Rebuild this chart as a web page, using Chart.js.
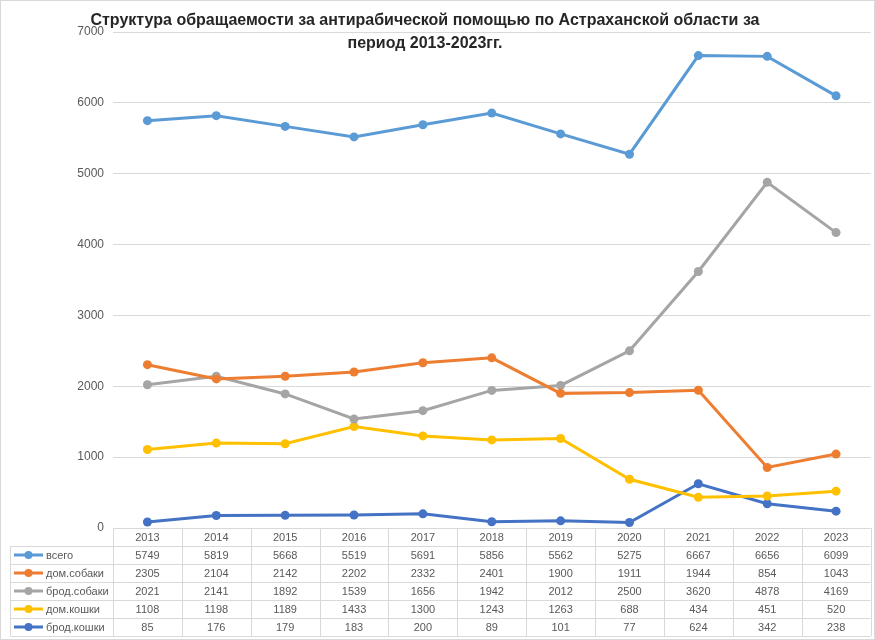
<!DOCTYPE html>
<html><head><meta charset="utf-8">
<script src="https://cdn.jsdelivr.net/npm/chart.js@4"></script>
<style>html,body{margin:0;padding:0;background:#fff}#wrap{width:875px;height:640px}</style>
</head><body><div id="wrap"><canvas id="c" width="875" height="640"></canvas></div>
<script>
const years = ['2013','2014','2015','2016','2017','2018','2019','2020','2021','2022','2023'];
const seriesNames = ['всего','дом.собаки','брод.собаки','дом.кошки','брод.кошки'];
const vsego      = [5749,5819,5668,5519,5691,5856,5562,5275,6667,6656,6099];
const domSobaki  = [2305,2104,2142,2202,2332,2401,1900,1911,1944,854,1043];
const brodSobaki = [2021,2141,1892,1539,1656,1942,2012,2500,3620,4878,4169];
const domKoshki  = [1108,1198,1189,1433,1300,1243,1263,688,434,451,520];
const brodKoshki = [85,176,179,183,200,89,101,77,624,342,238];
const yTicks = [0,1000,2000,3000,4000,5000,6000,7000];
const titleLines = ['Структура обращаемости за антирабической помощью по Астраханской области за','период 2013-2023гг.'];

const colors = ['#5B9BD5','#ED7D31','#A5A5A5','#FFC000','#4472C4'];
const allData = [vsego, domSobaki, brodSobaki, domKoshki, brodKoshki];
const FONT = '"Liberation Sans", Arial, sans-serif';
const TXT = '#595959';
const GRID = '#d9d9d9';

const tablePlugin = {
  id: 'tbl',
  afterDraw(chart) {
    const ctx = chart.ctx;
    const xs = chart.scales.x;
    const area = chart.chartArea;
    const left = area.left, right = area.right;
    const n = years.length;
    const colW = (right - left) / n;
    const top = area.bottom;
    const rowH = 18;
    ctx.save();
    ctx.strokeStyle = GRID;
    ctx.lineWidth = 1;
    for (let r = 0; r <= 6; r++) {
      const y = Math.round(top + r * rowH) + 0.5;
      const x0 = r >= 1 ? 10.5 : left;
      ctx.beginPath(); ctx.moveTo(x0, y); ctx.lineTo(right, y); ctx.stroke();
    }
    for (let i = 0; i <= n; i++) {
      const x = Math.round(left + i * colW) + 0.5;
      ctx.beginPath(); ctx.moveTo(x, top); ctx.lineTo(x, top + 6 * rowH); ctx.stroke();
    }
    ctx.beginPath(); ctx.moveTo(10.5, top + rowH); ctx.lineTo(10.5, top + 6 * rowH); ctx.stroke();
    ctx.fillStyle = TXT;
    ctx.font = '11px ' + FONT;
    ctx.textAlign = 'center';
    ctx.textBaseline = 'middle';
    for (let i = 0; i < n; i++) {
      const cx = xs.getPixelForValue(i);
      ctx.fillText(years[i], cx, top + rowH / 2 + 1);
      for (let s = 0; s < allData.length; s++) {
        ctx.fillText(String(allData[s][i]), cx, top + (s + 1) * rowH + rowH / 2 + 1);
      }
    }
    ctx.textAlign = 'left';
    for (let s = 0; s < seriesNames.length; s++) {
      const cy = top + (s + 1) * rowH + rowH / 2;
      ctx.strokeStyle = colors[s];
      ctx.lineWidth = 3;
      ctx.beginPath(); ctx.moveTo(14, cy); ctx.lineTo(43, cy); ctx.stroke();
      ctx.fillStyle = colors[s];
      ctx.beginPath(); ctx.arc(28.5, cy, 4, 0, Math.PI * 2); ctx.fill();
      ctx.fillStyle = TXT;
      ctx.fillText(seriesNames[s], 46, cy + 1);
    }
    ctx.fillStyle = '#262626';
    ctx.font = 'bold 16px ' + FONT;
    ctx.textAlign = 'center';
    ctx.fillText(titleLines[0], 425, 21);
    ctx.fillText(titleLines[1], 425, 44);
    ctx.strokeStyle = GRID;
    ctx.lineWidth = 1;
    ctx.strokeRect(0.5, 0.5, 874, 639);
    ctx.restore();
  }
};

new Chart(document.getElementById('c'), {
  type: 'line',
  data: {
    labels: years,
    datasets: seriesNames.map((name, s) => ({
      label: name,
      data: allData[s],
      borderColor: colors[s],
      backgroundColor: colors[s],
      pointBackgroundColor: colors[s],
      pointBorderColor: colors[s],
      borderWidth: 3,
      pointRadius: 4.5,
      pointBorderWidth: 0,
      tension: 0
    }))
  },
  options: {
    responsive: false,
    animation: false,
    devicePixelRatio: 1,
    layout: { padding: { left: 0, right: 2, top: 32, bottom: 112 } },
    plugins: { legend: { display: false }, title: { display: false }, tooltip: { enabled: false } },
    scales: {
      x: { type: 'category', offset: true, display: false },
      y: {
        min: 0, max: 7000,
        afterBuildTicks(scale) { scale.ticks = yTicks.map(v => ({ value: v })); },
        afterFit(scale) { scale.width = 113; },
        border: { display: false },
        grid: { color: GRID, drawTicks: false, lineWidth: 1 },
        ticks: { color: TXT, padding: 9, font: { size: 12, family: FONT }, callback: (v) => String(v) }
      }
    }
  },
  plugins: [tablePlugin]
});
</script>
</body></html>
